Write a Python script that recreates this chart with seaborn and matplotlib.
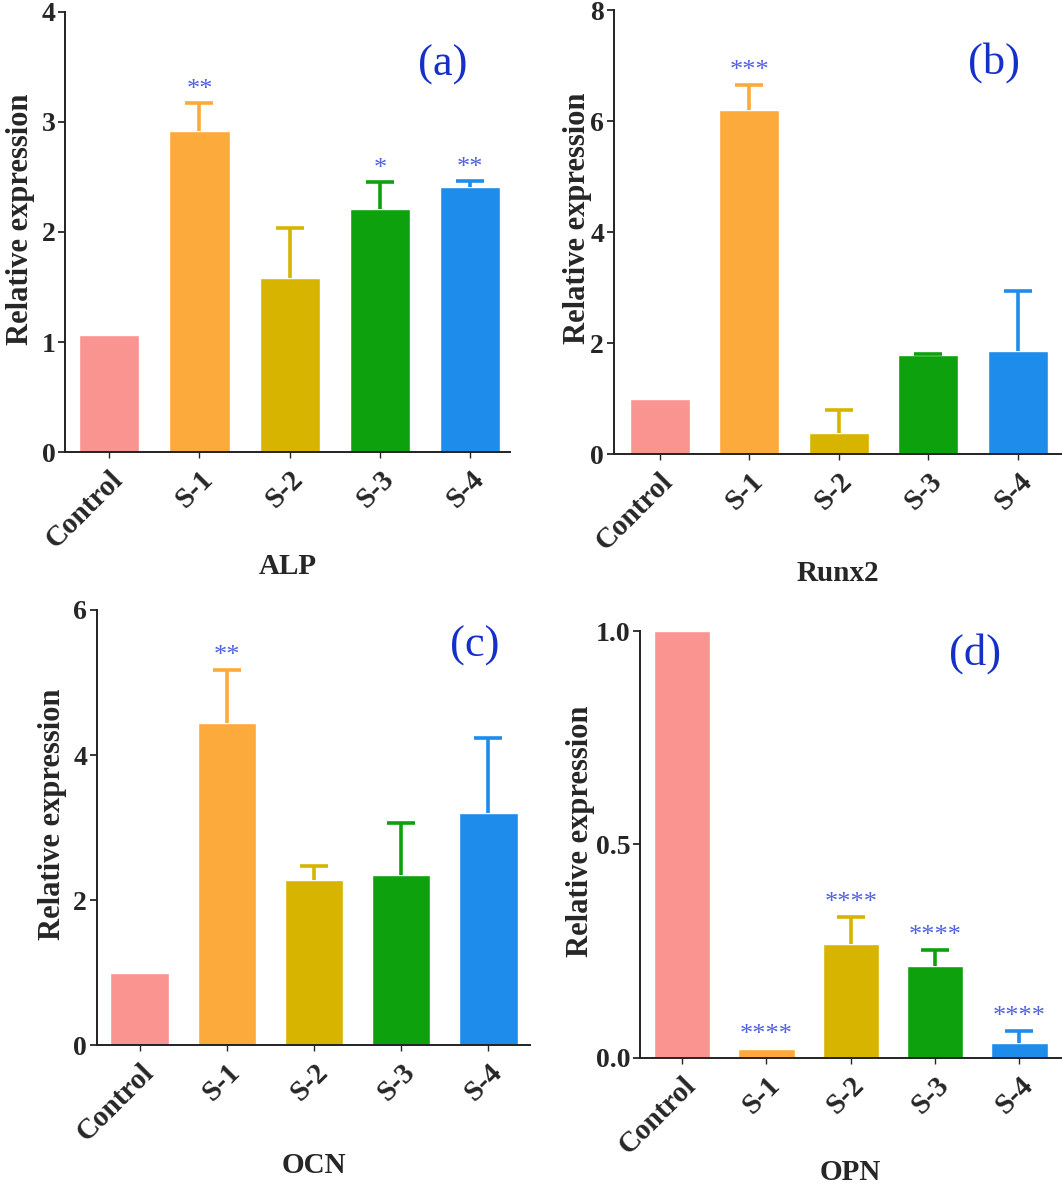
import matplotlib
matplotlib.use("Agg")
import matplotlib.pyplot as plt
import seaborn as sns
import numpy as np
import pandas as pd

# groups and colours
groups = ["Control", "S-1", "S-2", "S-3", "S-4"]
colors = ["#F99490", "#FDAA3C", "#D6B400", "#0EA10E", "#1E8CEB"]

# mean relative expression
alp_mean = [1.06, 2.92, 1.58, 2.21, 2.41]
alp_err = [0.0, 0.25, 0.46, 0.24, 0.05]
alp_stars = ["", "**", "", "*", "**"]

runx2_mean = [1.0, 6.2, 0.37, 1.79, 1.86]
runx2_err = [0.0, 0.45, 0.42, 0.01, 1.07]
runx2_stars = ["", "***", "", "", ""]

ocn_mean = [1.0, 4.44, 2.27, 2.34, 3.20]
ocn_err = [0.0, 0.73, 0.20, 0.72, 1.04]
ocn_stars = ["", "**", "", "", ""]

opn_mean = [1.0, 0.022, 0.266, 0.215, 0.034]
opn_err = [0.0, 0.0, 0.064, 0.038, 0.029]
opn_stars = ["", "****", "****", "****", "****"]

sns.set_style("white")
plt.rcParams["font.family"] = ["Liberation Serif", "DejaVu Serif"]
plt.rcParams["font.weight"] = "bold"

fig = plt.figure(figsize=(10.62, 11.87), dpi=100)

panels = [
    # name, means, errs, stars, ylim, yticks, letter, axes rect, xlim, letter pos, xlabel y, ylabel x
    ("ALP", alp_mean, alp_err, alp_stars, 4, [0, 1, 2, 3, 4], "(a)",
     [0.0612, 0.6192, 0.419, 0.3707], (-0.49, 4.44), (0.85, 0.88), -0.261, -0.101),
    ("Runx2", runx2_mean, runx2_err, runx2_stars, 8, [0, 2, 4, 6, 8], "(b)",
     [0.578, 0.6175, 0.422, 0.374], (-0.51, 4.49), (0.848, 0.883), -0.268, -0.080),
    ("OCN", ocn_mean, ocn_err, ocn_stars, 6, [0, 2, 4, 6], "(c)",
     [0.0913, 0.1196, 0.408, 0.3665], (-0.49, 4.48), (0.873, 0.917), -0.276, -0.102),
    ("OPN", opn_mean, opn_err, opn_stars, 1.0, [0.0, 0.5, 1.0], "(d)",
     [0.6026, 0.1087, 0.397, 0.3597], (-0.5, 4.5), (0.795, 0.948), -0.269, -0.142),
]

for (name, means, errs, stars, ymax, yticks, letter, rect, xlim,
     lpos, xly, ylx) in panels:
    ax = fig.add_axes(rect)
    df = pd.DataFrame({"group": groups, "value": means})
    sns.barplot(data=df, x="group", y="value", hue="group", palette=colors,
                width=0.67, legend=False, ax=ax, saturation=1)
    x = np.arange(len(groups))
    for i in range(len(groups)):
        if errs[i] > 0:
            eb = ax.errorbar(x[i], means[i], yerr=[[0], [errs[i]]], fmt="none",
                             ecolor=colors[i], elinewidth=2.6, capsize=10,
                             capthick=2.6)
            # hide the lower cap, only the upper half of the bar is shown
            eb[1][0].set_visible(False)
        if stars[i]:
            ax.annotate(stars[i], (x[i], means[i] + errs[i]),
                        xytext=(0, 2), textcoords="offset points",
                        ha="center", va="bottom", color="#5060E0",
                        fontsize=19, fontweight="normal")
    ax.set_xlim(*xlim)
    ax.set_ylim(0, ymax)
    ax.set_yticks(yticks)
    if ymax == 1.0:
        ax.set_yticklabels(["0.0", "0.5", "1.0"])
    ax.set_ylabel("Relative expression", fontsize=22, fontweight="bold")
    ax.yaxis.set_label_coords(ylx, 0.53)
    ax.yaxis.label.set_verticalalignment("center")
    ax.set_xlabel(name, fontsize=21, fontweight="bold")
    ax.xaxis.set_label_coords(0.5, xly)
    ax.xaxis.label.set_verticalalignment("center")
    ax.tick_params(axis="y", labelsize=20, length=5, width=1.3, direction="out", left=True, pad=2)
    ax.tick_params(axis="x", labelsize=21, length=4, width=1.0, bottom=True, pad=6)
    for lab in ax.get_xticklabels():
        lab.set_rotation(45)
        lab.set_ha("right")
        lab.set_rotation_mode("anchor")
    sns.despine(ax=ax)
    ax.spines["left"].set_linewidth(1.4)
    ax.spines["bottom"].set_linewidth(1.4)
    ax.spines["left"].set_color("#222222")
    ax.spines["bottom"].set_color("#222222")
    ax.text(lpos[0], lpos[1], letter, transform=ax.transAxes, ha="center",
            va="center", color="#1530C8", fontsize=32, fontweight="normal")

fig.savefig("out.png", dpi=100)
